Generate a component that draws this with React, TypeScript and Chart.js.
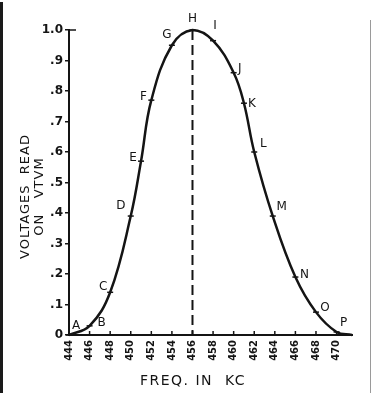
import React, { useEffect, useRef } from 'react';
import { Chart, registerables } from 'chart.js';

Chart.register(...registerables);

// ---- data ----
const pointLabels = ['A', 'B', 'C', 'D', 'E', 'F', 'G', 'H', 'I', 'J', 'K', 'L', 'M', 'N', 'O', 'P'];
const freqs = [444, 446, 448, 450, 451, 452, 454, 456, 458, 460, 461, 462, 463.8, 466, 468, 470];
const volts = [0, 0.03, 0.14, 0.39, 0.57, 0.77, 0.95, 1.0, 0.965, 0.86, 0.76, 0.6, 0.39, 0.19, 0.075, 0.01];
const tailFreq = 471.5;
const tailVolt = 0;
const resonanceFreq = 456;
const resonanceVolt = 1.0;
const xTicks = [444, 446, 448, 450, 452, 454, 456, 458, 460, 462, 464, 466, 468, 470];
const yTicks = [0, 0.1, 0.2, 0.3, 0.4, 0.5, 0.6, 0.7, 0.8, 0.9, 1.0];
const yTickLabels = ['0', '.1', '.2', '.3', '.4', '.5', '.6', '.7', '.8', '.9', '1.0'];
const yTitleLines = ['VOLTAGES  READ', 'ON   VTVM'];
const xTitle = 'FREQ. IN  KC';

// label offsets (style) relative to each point
const labelOffsets: [number, number][] = [
  [7, -9], [12, -3], [-7, -5], [-10, -10], [-8, -3], [-8, -3], [-5, -10], [0, -11],
  [2, -15], [6, -4], [8, 1], [9, -8], [9, -9], [9, -2], [9, -4], [7, -9],
];

const INK = '#141414';
const FONT = '"DejaVu Sans", "Liberation Sans", sans-serif';

const decor = {
  id: 'decor',
  afterDraw(chart: any) {
    const { ctx, chartArea } = chart;
    const xs = chart.scales.x;
    ctx.save();
    ctx.strokeStyle = INK;
    ctx.lineWidth = 1.5;
    // x tick marks pointing upward
    xTicks.forEach((v) => {
      const px = xs.getPixelForValue(v);
      ctx.beginPath();
      ctx.moveTo(px, chartArea.bottom);
      ctx.lineTo(px, chartArea.bottom - 4);
      ctx.stroke();
    });
    // top tick going right
    ctx.beginPath();
    ctx.moveTo(chartArea.left, chartArea.top);
    ctx.lineTo(chartArea.left + 7, chartArea.top);
    ctx.stroke();

    // point letters
    const meta = chart.getDatasetMeta(0);
    ctx.fillStyle = INK;
    ctx.font = '12px ' + FONT;
    ctx.textAlign = 'center';
    ctx.textBaseline = 'middle';
    pointLabels.forEach((lab, i) => {
      const el = meta.data[i];
      if (!el) return;
      const [dx, dy] = labelOffsets[i];
      ctx.fillText(lab, el.x + dx, el.y + dy);
    });

    // y title
    ctx.font = '13px ' + FONT;
    (ctx as any).letterSpacing = '1px';
    const cy = (chartArea.top + chartArea.bottom) / 2 + 14;
    [26, 40].forEach((cx, i) => {
      ctx.save();
      ctx.translate(cx, cy);
      ctx.rotate(-Math.PI / 2);
      ctx.fillText(yTitleLines[i], 0, 0);
      ctx.restore();
    });
    // x title
    ctx.font = '14px ' + FONT;
    (ctx as any).letterSpacing = '1.5px';
    ctx.fillText(xTitle, 193, 381);
    ctx.restore();
  },
};

export default function App() {
  const ref = useRef<HTMLCanvasElement>(null);
  useEffect(() => {
    if (!ref.current) return;
    const curve = freqs.map((f, i) => ({ x: f, y: volts[i] }));
    curve.push({ x: tailFreq, y: tailVolt });
    const chart = new Chart(ref.current, {
      type: 'line',
      data: {
        datasets: [
          {
            data: curve,
            borderColor: INK,
            borderWidth: 2.5,
            tension: 0.4,
            pointStyle: 'line',
            pointRadius: (c: any) => (c.dataIndex < pointLabels.length ? 3 : 0),
            pointBorderWidth: 1.5,
            pointBorderColor: INK,
            fill: false,
            clip: false as any,
          },
          {
            data: [
              { x: resonanceFreq, y: resonanceVolt },
              { x: resonanceFreq, y: 0 },
            ],
            borderColor: INK,
            borderWidth: 2,
            borderDash: [10, 5],
            pointRadius: 0,
            fill: false,
          },
        ],
      },
      options: {
        responsive: false,
        animation: false,
        layout: { padding: { top: 30, right: 20, left: 0, bottom: 0 } },
        plugins: { legend: { display: false }, tooltip: { enabled: false } },
        scales: {
          x: {
            type: 'linear',
            min: 444,
            max: tailFreq,
            afterBuildTicks: (s: any) => {
              s.ticks = xTicks.map((v) => ({ value: v }));
            },
            afterFit: (s: any) => {
              s.height = 58;
            },
            grid: { display: false, drawTicks: false },
            border: { display: true, color: INK, width: 2 },
            ticks: {
              autoSkip: false,
              minRotation: 90,
              maxRotation: 90,
              padding: 5,
              color: INK,
              font: { family: FONT, size: 10, weight: 'bold' },
              callback: (v: any) => String(v),
            },
          },
          y: {
            type: 'linear',
            min: 0,
            max: 1,
            afterBuildTicks: (s: any) => {
              s.ticks = yTicks.map((v) => ({ value: v }));
            },
            afterFit: (s: any) => {
              s.width = 69;
            },
            grid: { display: true, drawOnChartArea: false, drawTicks: true, tickLength: 4, color: INK, lineWidth: 1.5 },
            border: { display: true, color: INK, width: 2 },
            ticks: {
              padding: 2,
              color: INK,
              font: { family: FONT, size: 12, weight: 'bold' },
              callback: (_v: any, i: number) => yTickLabels[i],
            },
          },
        },
      },
      plugins: [decor],
    } as any);
    return () => chart.destroy();
  }, []);
  return (
    <div style={{ position: 'absolute', left: 0, top: 0, width: 372, height: 393, background: '#fff' }}>
      <canvas ref={ref} width={372} height={393} style={{ display: 'block' }} />
      <div style={{ position: 'absolute', left: 0, top: 2, width: 3, height: 391, background: '#1a1a1a' }} />
      <div style={{ position: 'absolute', left: 370, top: 20, width: 1, height: 373, background: '#9a9a9a' }} />
    </div>
  );
}
